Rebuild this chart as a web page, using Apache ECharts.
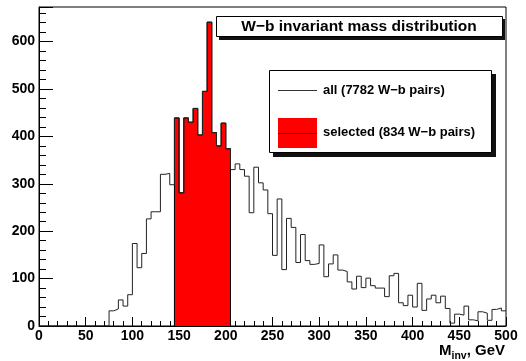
<!DOCTYPE html>
<html>
<head>
<meta charset="utf-8">
<script src="https://cdn.jsdelivr.net/npm/echarts@6/dist/echarts.min.js"></script>
<style>
  html, body { margin: 0; padding: 0; background: #fff; }
  #wb-mass-chart { width: 526px; height: 361px; }
</style>
</head>
<body>
<div id="wb-mass-chart"></div>
<script>
// histogram binning (GeV)
const binWidth = 5;
const xMin = 0, xMax = 500;
const yMax = 673;
// all W-b pairs, one count per 5 GeV bin starting at 0
const allCounts = [
  0, 0, 0, 0, 0, 0, 0, 0, 0, 0, 0, 0, 0, 0, 0,
  32, 36, 55, 42, 66, 174, 123, 153, 226, 241, 241, 320, 322, 298,
  439, 281, 439, 430, 459, 403, 495, 641, 408, 380, 428, 374,
  330, 342, 330, 316, 239, 335, 302, 287, 237, 149, 268, 119, 227, 208,
  134, 193, 138, 130, 132, 171, 104, 131, 150, 118, 115, 93, 78, 105,
  81, 101, 85, 80, 80, 62, 106, 111, 49, 43, 65, 40, 90, 33, 57,
  65, 49, 63, 37, 6, 25, 23, 42, 13, 11, 30, 27, 12, 35, 38, 32
];
// selected window 145-205 GeV
const selStart = 145;
const selectedCounts = [439, 281, 439, 430, 459, 403, 495, 641, 408, 380, 428, 374];
const yTicks = [0, 100, 200, 300, 400, 500, 600];
const xTicks = [0, 50, 100, 150, 200, 250, 300, 350, 400, 450, 500];

const titleText = 'W\u2212b invariant mass distribution';
const legendAll = 'all (7782 W\u2212b pairs)';
const legendSel = 'selected (834 W\u2212b pairs)';

const font = 'Liberation Sans, Arial, Helvetica, sans-serif';

// step outline points: left edge of each bin + closing point
function stepPoints(start, counts) {
    let pts = counts.map((c, i) => [start + i * binWidth, c]);
    pts.push([start + counts.length * binWidth, counts[counts.length - 1]]);
    return pts;
}
let allData = stepPoints(xMin, allCounts);
let selData = [[selStart, 0]].concat(stepPoints(selStart, selectedCounts));
selData.push([selStart + selectedCounts.length * binWidth, 0]);

let axisLabelStyle = { color: '#000', fontFamily: font, fontWeight: 'bold', fontSize: 14 };

let option = {
    animation: false,
    backgroundColor: '#fff',
    grid: {
        left: 39, right: 20, top: 7, bottom: 35,
        show: true, borderColor: '#000', borderWidth: 1, backgroundColor: '#fff'
    },
    xAxis: {
        type: 'value',
        min: xMin, max: xMax, interval: 50,
        axisLine: { show: true, lineStyle: { color: '#000', width: 1 } },
        axisTick: { show: true, inside: true, length: 9, lineStyle: { color: '#000' } },
        minorTick: { show: true, splitNumber: 5, length: 5, lineStyle: { color: '#000' } },
        splitLine: { show: false },
        axisLabel: Object.assign({ margin: 3, formatter: v => xTicks.includes(v) ? String(v) : '' }, axisLabelStyle)
    },
    yAxis: {
        type: 'value',
        min: 0, max: yMax, interval: 100,
        axisLine: { show: true, lineStyle: { color: '#000', width: 1 } },
        axisTick: { show: true, inside: true, length: 14, lineStyle: { color: '#000' } },
        minorTick: { show: true, splitNumber: 5, length: 7, lineStyle: { color: '#000' } },
        splitLine: { show: false },
        axisLabel: Object.assign({ margin: 4, showMaxLabel: false, formatter: v => yTicks.includes(v) ? String(v) : '' }, axisLabelStyle)
    },
    series: [
        {
            name: 'selected',
            type: 'line',
            step: 'end',
            symbol: 'none',
            data: selData,
            lineStyle: { color: '#000', width: 1 },
            areaStyle: { color: '#ff0000', opacity: 1 }
        },
        {
            name: 'all',
            type: 'line',
            step: 'end',
            symbol: 'none',
            data: allData,
            lineStyle: { color: '#222', width: 1 }
        }
    ],
    graphic: [
        // title pave with shadow
        { type: 'rect', z: 100, shape: { x: 219, y: 19, width: 286, height: 21 }, style: { fill: '#111' } },
        { type: 'rect', z: 101, shape: { x: 216.5, y: 16.5, width: 286, height: 20 }, style: { fill: '#fff', stroke: '#000', lineWidth: 1 } },
        { type: 'text', z: 102, x: 359, y: 27, style: { text: titleText, fill: '#000', font: 'bold 15.5px ' + font, align: 'center', verticalAlign: 'middle' } },
        // legend box with shadow
        { type: 'rect', z: 100, shape: { x: 273, y: 74, width: 223, height: 83 }, style: { fill: '#111' } },
        { type: 'rect', z: 101, shape: { x: 269.5, y: 70.5, width: 222, height: 82 }, style: { fill: '#fff', stroke: '#000', lineWidth: 1 } },
        { type: 'line', z: 102, shape: { x1: 278, y1: 90.5, x2: 317, y2: 90.5 }, style: { stroke: '#333', lineWidth: 1 } },
        { type: 'text', z: 102, x: 323, y: 90, style: { text: legendAll, fill: '#000', font: 'bold 13px ' + font, align: 'left', verticalAlign: 'middle' } },
        { type: 'rect', z: 102, shape: { x: 278, y: 118, width: 39, height: 30 }, style: { fill: '#ff0000' } },
        { type: 'line', z: 103, shape: { x1: 278, y1: 133.5, x2: 317, y2: 133.5 }, style: { stroke: '#500', lineWidth: 1 } },
        { type: 'text', z: 102, x: 323, y: 132, style: { text: legendSel, fill: '#000', font: 'bold 13px ' + font, align: 'left', verticalAlign: 'middle' } },
        // x axis title M_inv, GeV
        {
            type: 'text', z: 102, x: 505, y: 343,
            style: {
                text: '{b|M}{s|inv}{b|, GeV}',
                align: 'right', verticalAlign: 'top',
                rich: {
                    b: { fontFamily: font, fontWeight: 'bold', fontSize: 15, lineHeight: 19, verticalAlign: 'top', fill: '#000' },
                    s: { fontFamily: font, fontWeight: 'bold', fontSize: 10.5, lineHeight: 19, verticalAlign: 'bottom', fill: '#000' }
                }
            }
        }
    ]
};

let chart = echarts.init(document.getElementById('wb-mass-chart'));
chart.setOption(option);
</script>
</body>
</html>
